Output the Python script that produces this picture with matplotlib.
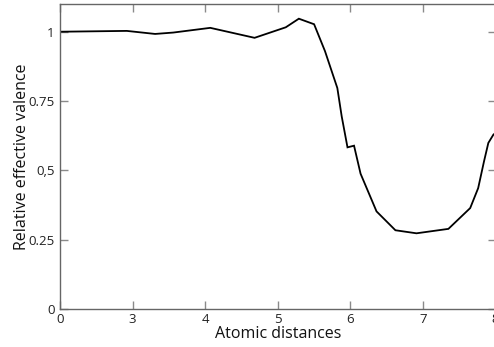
import matplotlib
matplotlib.use("Agg")
import matplotlib.pyplot as plt

# Position on the (broken) atomic-distance axis; first tick labelled "0" sits at 2
distance = [2.00, 2.92, 3.31, 3.56, 4.07, 4.68, 5.11, 5.29, 5.50, 5.65, 5.82, 5.88,
            5.96, 6.05, 6.14, 6.36, 6.62, 6.91, 7.35, 7.65, 7.76, 7.84, 7.90, 7.97, 8.00]
valence = [1.000, 1.003, 0.992, 0.997, 1.014, 0.978, 1.016, 1.047, 1.027, 0.930, 0.797, 0.695,
           0.583, 0.589, 0.488, 0.352, 0.284, 0.273, 0.289, 0.364, 0.436, 0.532, 0.599, 0.629, 0.635]

xtick_pos = [2, 3, 4, 5, 6, 7, 8]
xtick_labels = ["0", "3", "4", "5", "6", "7", "8"]
ytick_pos = [0, 0.25, 0.5, 0.75, 1.0]
ytick_labels = ["0", "0.25", "0,5", "0.75", "1"]

plt.rcParams['font.family'] = ['Open Sans', 'DejaVu Sans']

fig = plt.figure(figsize=(4.94, 3.47), dpi=100)
ax = fig.add_axes([60/494, 38/347, 435.6/494, 305/347])

ax.plot(distance, valence, color="black", linewidth=1.3, solid_joinstyle="miter")

ax.set_xlim(2, 8)
ax.set_ylim(0, 1.1)
ax.set_xticks(xtick_pos)
ax.set_xticklabels(xtick_labels)
ax.set_yticks(ytick_pos)
ax.set_yticklabels(ytick_labels)

ax.tick_params(direction="in", length=6, width=1, color="#8a8a8a",
               top=True, right=True, labelsize=9.5, pad=4, labelcolor="#222222")
ax.tick_params(axis="x", pad=3)
for s in ax.spines.values():
    s.set_color("#666666")
    s.set_linewidth(1.0)

ax.set_xlabel("Atomic distances", fontsize=11.5, labelpad=0, color="#111111")
ax.set_ylabel("Relative effective valence", fontsize=11.5, labelpad=-1, color="#111111")

fig.savefig("out.png", dpi=100)
